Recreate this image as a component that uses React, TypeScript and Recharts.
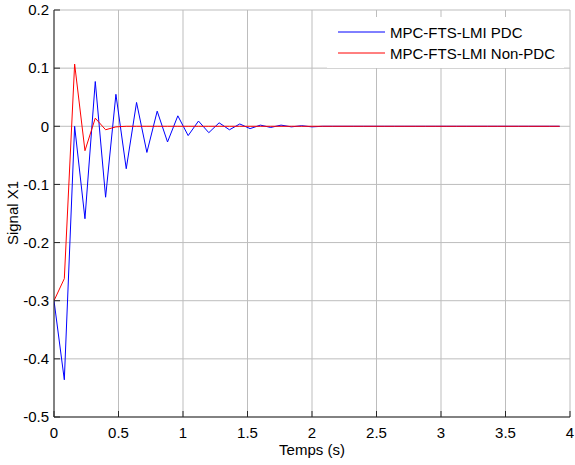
import React from 'react';
import { LineChart, Line, XAxis, YAxis, CartesianGrid, Legend } from 'recharts';

const timeValues = [
  0, 0.08, 0.16, 0.24, 0.32, 0.4, 0.48, 0.56, 0.64, 0.72,
  0.8, 0.88, 0.96, 1.04, 1.12, 1.2, 1.28, 1.36, 1.44, 1.52,
  1.6, 1.68, 1.76, 1.84, 1.92, 2.0, 2.08, 2.16, 2.24, 2.32,
  2.4, 2.48, 2.56, 2.64, 2.72, 2.8, 2.88, 2.96, 3.04, 3.12,
  3.2, 3.28, 3.36, 3.44, 3.52, 3.6, 3.68, 3.76, 3.84, 3.92,
];

const pdcValues = [
  -0.3, -0.436, 0.0, -0.159, 0.077, -0.122, 0.055, -0.073, 0.041, -0.045,
  0.026, -0.027, 0.018, -0.016, 0.009, -0.011, 0.006, -0.006, 0.004, -0.004,
  0.002, -0.002, 0.002, -0.001, 0.001, -0.001, 0, 0, 0, 0,
  0, 0, 0, 0, 0, 0, 0, 0, 0, 0,
  0, 0, 0, 0, 0, 0, 0, 0, 0, 0,
];

const nonPdcValues = [
  -0.3, -0.262, 0.107, -0.042, 0.014, -0.006, -0.001, 0, 0, 0,
  0, 0, 0, 0, 0, 0, 0, 0, 0, 0,
  0, 0, 0, 0, 0, 0, 0, 0, 0, 0,
  0, 0, 0, 0, 0, 0, 0, 0, 0, 0,
  0, 0, 0, 0, 0, 0, 0, 0, 0, 0,
];

const xTicks = [0, 0.5, 1, 1.5, 2, 2.5, 3, 3.5, 4];
const yTicks = [-0.5, -0.4, -0.3, -0.2, -0.1, 0, 0.1, 0.2];
const seriesNames = ['MPC-FTS-LMI PDC', 'MPC-FTS-LMI Non-PDC'];
const seriesColors = ['#0000ff', '#ff0000'];
const xLabel = 'Temps (s)';
const yLabel = 'Signal X1';

const data = timeValues.map((t, i) => ({ t, pdc: pdcValues[i], nonPdc: nonPdcValues[i] }));

const FONT = '"Liberation Sans", Arial, sans-serif';
const FS = 15;
const AXIS_COLOR = '#262626';
const GRID_COLOR = '#bdbdbd';

const renderLegend = () => (
  <div
    style={{
      position: 'relative',
      width: 237,
      height: 51,
      background: '#fff',
      fontFamily: FONT,
      fontSize: FS,
      color: '#000',
    }}
  >
    {seriesNames.map((n, i) => (
      <div
        key={n}
        style={{
          position: 'absolute',
          left: 0,
          top: 6 + i * 21,
          height: 18,
          display: 'flex',
          alignItems: 'center',
          whiteSpace: 'nowrap',
        }}
      >
        <svg width={58} height={18} style={{ display: 'block' }}>
          <line x1={11} x2={58} y1={9} y2={9} stroke={seriesColors[i]} strokeWidth={1} />
        </svg>
        <span style={{ marginLeft: 5 }}>{n}</span>
      </div>
    ))}
  </div>
);

export default function App() {
  const tickStyle = { fontFamily: FONT, fontSize: FS, fill: '#000' };
  return (
    <div style={{ position: 'absolute', left: 0, top: 0 }}>
      <LineChart
        width={575}
        height={465}
        data={data}
        margin={{ top: 10, right: 5, bottom: 0, left: 0 }}
        style={{ background: '#fff' }}
      >
        <CartesianGrid stroke={GRID_COLOR} strokeWidth={1} />
        <XAxis
          dataKey="t"
          type="number"
          domain={[0, 4]}
          ticks={xTicks}
          height={48}
          tickSize={-6}
          tickMargin={16}
          tick={tickStyle}
          axisLine={{ stroke: AXIS_COLOR }}
          tickLine={{ stroke: AXIS_COLOR }}
          allowDataOverflow
          label={{
            content: () => (
              <text x={312} y={449} textAnchor="middle" dominantBaseline="central" fontFamily={FONT} fontSize={FS} fill="#000">
                {xLabel}
              </text>
            ),
          }}
        />
        <XAxis
          xAxisId="top"
          orientation="top"
          type="number"
          domain={[0, 4]}
          ticks={xTicks}
          height={0}
          tickSize={-6}
          tick={false}
          axisLine={{ stroke: AXIS_COLOR }}
          tickLine={{ stroke: AXIS_COLOR }}
          allowDataOverflow
        />
        <YAxis
          type="number"
          domain={[-0.5, 0.2]}
          ticks={yTicks}
          width={54}
          tickSize={-6}
          tickMargin={11}
          tick={tickStyle}
          axisLine={{ stroke: AXIS_COLOR }}
          tickLine={{ stroke: AXIS_COLOR }}
          allowDataOverflow
          label={{
            content: () => (
              <text
                x={12}
                y={213}
                transform="rotate(-90 12 213)"
                textAnchor="middle"
                dominantBaseline="central"
                fontFamily={FONT}
                fontSize={FS}
                fill="#000"
              >
                {yLabel}
              </text>
            ),
          }}
        />
        <YAxis
          yAxisId="right"
          orientation="right"
          type="number"
          domain={[-0.5, 0.2]}
          ticks={yTicks}
          width={0}
          tickSize={-6}
          tick={false}
          axisLine={{ stroke: AXIS_COLOR }}
          tickLine={{ stroke: AXIS_COLOR }}
          allowDataOverflow
        />
        <Line
          dataKey="pdc"
          name={seriesNames[0]}
          stroke={seriesColors[0]}
          strokeWidth={1}
          dot={false}
          activeDot={false}
          isAnimationActive={false}
        />
        <Line
          dataKey="nonPdc"
          name={seriesNames[1]}
          stroke={seriesColors[1]}
          strokeWidth={1}
          dot={false}
          activeDot={false}
          isAnimationActive={false}
        />
        <Legend
          layout="vertical"
          align="center"
          verticalAlign="middle"
          content={renderLegend}
          wrapperStyle={{ position: 'absolute', left: 327, top: 17, width: 237, height: 51 }}
        />
      </LineChart>
    </div>
  );
}
